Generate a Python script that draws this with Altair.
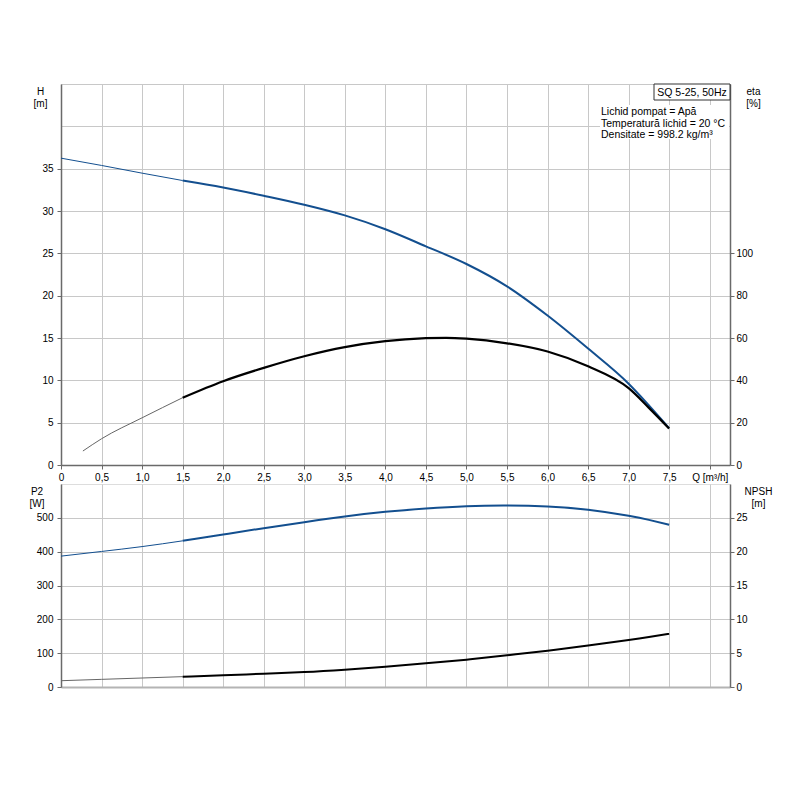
import altair as alt
import pandas as pd

# ---- data ----
Q = [0.0, 0.5, 1.0, 1.5, 2.0, 2.5, 3.0, 3.5, 4.0, 4.5, 5.0, 5.5, 6.0, 6.5, 7.0, 7.25, 7.5]
H = [36.24, 35.38, 34.47, 33.6, 32.78, 31.8, 30.74, 29.48, 27.85, 25.83, 23.74, 21.1, 17.65, 13.75, 9.6, 7.05, 4.35]
P2 = [386.8, 400.6, 415.0, 432.0, 450.8, 469.5, 487.2, 504.0, 517.7, 527.6, 534.4, 536.4, 533.5, 523.6, 506.0, 494.0, 479.3]
NPSH = [0.93, 1.13, 1.33, 1.53, 1.72, 1.97, 2.21, 2.56, 3.0, 3.5, 4.04, 4.68, 5.36, 6.15, 6.94, 7.38, 7.87]

Q_ETA = [0.27, 0.5, 1.0, 1.5, 2.0, 2.5, 3.0, 3.5, 4.0, 4.5, 4.75, 5.0, 5.5, 6.0, 6.5, 7.0, 7.25, 7.5]
ETA = [6.6, 12.4, 22.3, 31.8, 39.6, 45.9, 51.4, 55.7, 58.5, 59.9, 60.1, 59.7, 57.5, 53.6, 46.6, 36.3, 27.0, 17.2]

X_TICKS = [0, 0.5, 1.0, 1.5, 2.0, 2.5, 3.0, 3.5, 4.0, 4.5, 5.0, 5.5, 6.0, 6.5, 7.0, 7.5, 8.0]
H_TICKS = [0, 5, 10, 15, 20, 25, 30, 35, 40, 45]
ETA_TICKS = [0, 20, 40, 60, 80, 100]
P2_TICKS = [0, 100, 200, 300, 400, 500]
NPSH_TICKS = [0, 5, 10, 15, 20, 25]

BOX_TEXT = "SQ 5-25, 50Hz"
INFO = ["Lichid pompat = Apă", "Temperatură lichid = 20 °C", "Densitate = 998.2 kg/m³"]

pump = pd.DataFrame({"Q": Q, "H": H, "P2": P2, "NPSH": NPSH})
eff = pd.DataFrame({"Q": Q_ETA, "eta": ETA})

BLUE = "#134f8f"
FONT = "Liberation Sans"
GRID = "#c8c8c8"
DARK = "#6a6a6a"

xs = alt.Scale(domain=[0, 8.25], nice=False, zero=False)
label_expr = ("datum.value == 0 ? '0' : datum.value == 8 ? 'Q [m³/h]' : "
              "replace(format(datum.value, '.1f'), '.', ',')")

common_axis = dict(labelFont=FONT, labelFontSize=10, labelColor="#000",
                   titleFont=FONT, titleFontSize=10, titleColor="#000",
                   titleFontWeight="normal", gridColor=GRID, tickColor=DARK,
                   domainColor=DARK, domainWidth=1.5, tickSize=4)

x_top = alt.X("Q:Q", scale=xs, axis=alt.Axis(values=X_TICKS, labelExpr=label_expr, title=None,
                                             grid=True, labelPadding=3, labelFlush=False,
                                             labelOverlap=False, **common_axis))
x_bot = alt.X("Q:Q", scale=xs, axis=alt.Axis(values=X_TICKS, labels=False, ticks=False, title=None,
                                             grid=True, gridColor=GRID, domainColor="#b4b4b4",
                                             domainWidth=2))


def left_axis(values, title, maxlab, tx):
    return alt.Axis(values=values, title=title, titleAngle=0, titleAlign="center",
                    titleBaseline="top", titleX=tx, titleY=2, titleLineHeight=12,
                    grid=True, labelPadding=4,
                    labelExpr=f"datum.value > {maxlab} ? '' : datum.label",
                    tickOpacity={"condition": {"test": f"datum.value > {maxlab}", "value": 0}, "value": 1},
                    **common_axis)


def right_axis(values, title, tx):
    return alt.Axis(values=values, title=title, orient="right", titleAngle=0, titleAlign="center",
                    titleBaseline="top", titleX=tx, titleY=2, titleLineHeight=12,
                    grid=False, labelPadding=2, **common_axis)


y_H = alt.Y("H:Q", scale=alt.Scale(domain=[0, 45], nice=False), axis=left_axis(H_TICKS, ["H", "[m]"], 35, -21))
y_eta = alt.Y("eta:Q", scale=alt.Scale(domain=[0, 180], nice=False), axis=right_axis(ETA_TICKS, ["eta", "[%]"], 23))
y_P2 = alt.Y("P2:Q", scale=alt.Scale(domain=[0, 600], nice=False), axis=left_axis(P2_TICKS, ["P2", "[W]"], 500, -24.5))
y_N = alt.Y("NPSH:Q", scale=alt.Scale(domain=[0, 30], nice=False), axis=right_axis(NPSH_TICKS, ["NPSH", "[m]"], 28))

thin = "datum.Q <= 1.5"
thick = "datum.Q >= 1.5"


def seg(df, x, y, cond, color, w, interp="natural"):
    return alt.Chart(df).transform_filter(cond).mark_line(
        color=color, strokeWidth=w, interpolate=interp, clip=True).encode(x=x, y=y)


one = pd.DataFrame({"t": [BOX_TEXT]})
box_bg = alt.Chart(one).mark_rect(fill="white").encode(
    x=alt.value(539), x2=alt.value(668), y=alt.value(21), y2=alt.value(55))
box = alt.Chart(one).mark_rect(fill="white", stroke="#333", strokeWidth=1).encode(
    x=alt.value(593), x2=alt.value(669), y=alt.value(0), y2=alt.value(16))
box_t = alt.Chart(one).mark_text(font=FONT, fontSize=10.5, color="#000", align="center",
                                 baseline="middle").encode(x=alt.value(631), y=alt.value(8.5), text="t:N")
info_layers = []
for i, line in enumerate(INFO):
    info_layers.append(
        alt.Chart(pd.DataFrame({"t": [line]})).mark_text(
            font=FONT, fontSize=10.5, color="#000", align="left", baseline="middle"
        ).encode(x=alt.value(540), y=alt.value(28 + 11.7 * i), text="t:N"))

top = alt.layer(
    alt.layer(seg(pump, x_top, y_H, thin, BLUE, 1, "monotone"),
              seg(pump, x_top, y_H, thick, BLUE, 2, "monotone"),
              box_bg, box, box_t, *info_layers),
    alt.layer(seg(eff, x_top, y_eta, thin, "#666666", 1, "monotone"),
              seg(eff, x_top, y_eta, thick, "#000000", 2.2, "monotone")),
).resolve_scale(y="independent").properties(width=669, height=381)

bottom = alt.layer(
    alt.layer(seg(pump, x_bot, y_P2, thin, BLUE, 1), seg(pump, x_bot, y_P2, thick, BLUE, 2)),
    alt.layer(seg(pump, x_bot, y_N, thin, "#666666", 1), seg(pump, x_bot, y_N, thick, "#000000", 2)),
).resolve_scale(y="independent").properties(width=669, height=203)

chart = alt.vconcat(top, bottom, spacing=0).properties(
    padding={"left": 20, "top": 75, "right": 5, "bottom": 5}
).configure_view(stroke="#999999", strokeWidth=1).configure(background="white")

chart.save("out.html", embed_options={"renderer": "svg", "actions": False})
